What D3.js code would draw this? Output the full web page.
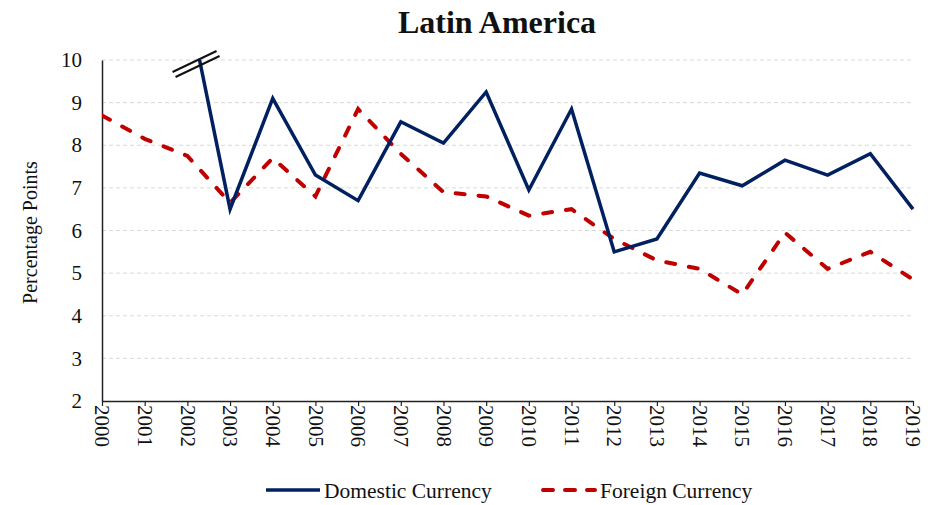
<!DOCTYPE html>
<html>
<head>
<meta charset="utf-8">
<script src="https://cdn.jsdelivr.net/npm/d3@7/dist/d3.min.js"></script>
<style>
  body { margin: 0; background: #fff; }
  svg text { font-family: "Liberation Serif", "DejaVu Serif", serif; fill: #111; }
</style>
</head>
<body>
<div id="chart"></div>
<script>
// data
var years = d3.range(2000, 2020);
var domestic = [null, null, 11.4, 6.5, 9.1, 7.3, 6.7, 8.55, 8.05, 9.25, 6.95, 8.85, 5.5, 5.8, 7.35, 7.05, 7.65, 7.3, 7.8, 6.5];
var foreign = [8.7, 8.15, 7.75, 6.65, 7.7, 6.8, 8.85, 7.8, 6.9, 6.8, 6.35, 6.5, 5.8, 5.3, 5.1, 4.5, 5.95, 5.1, 5.5, 4.85];
var yTicks = [2, 3, 4, 5, 6, 7, 8, 9, 10];

var width = 942, height = 505;
var margin = {top: 60, right: 29, bottom: 104, left: 102};
var w = width - margin.left - margin.right,
    h = height - margin.top - margin.bottom;

var svg = d3.select("#chart").append("svg")
    .attr("width", width)
    .attr("height", height);

var g = svg.append("g")
    .attr("transform", "translate(" + margin.left + "," + margin.top + ")");

var x = d3.scaleLinear().domain([2000, 2019]).range([0, w]);
var y = d3.scaleLinear().domain([2, 10]).range([h, 0]);

// title
svg.append("text")
    .attr("x", 497).attr("y", 33)
    .attr("text-anchor", "middle")
    .style("font-size", "32px").style("font-weight", "bold")
    .text("Latin America");

// gridlines
g.selectAll(".grid")
    .data(yTicks.slice(1))
    .enter().append("line")
    .attr("x1", 0).attr("x2", w)
    .attr("y1", function(d) { return y(d); })
    .attr("y2", function(d) { return y(d); })
    .attr("stroke", "#d9d9d9")
    .attr("stroke-width", 1)
    .attr("stroke-dasharray", "4,3");

// y axis
var yAxis = g.append("g")
    .call(d3.axisLeft(y).tickValues(yTicks).tickSize(0).tickPadding(20));
yAxis.select(".domain").attr("stroke", "#222").attr("stroke-width", 1.5);
yAxis.selectAll("text").style("font-size", "21px").attr("fill", "#111");

// x axis
var xAxis = g.append("g")
    .attr("transform", "translate(0," + h + ")")
    .call(d3.axisBottom(x).tickValues(years).tickFormat(d3.format("d")).tickSize(5).tickSizeOuter(0));
xAxis.select(".domain").attr("stroke", "#222").attr("stroke-width", 1.5);
xAxis.selectAll("line").attr("stroke", "#222").attr("stroke-width", 1.2);
xAxis.selectAll("text")
    .style("font-size", "21px")
    .attr("fill", "#111")
    .attr("transform", "rotate(90)")
    .attr("x", 4).attr("y", 0).attr("dy", "0.35em")
    .style("text-anchor", "start");

// y label
svg.append("text")
    .attr("transform", "translate(37," + (margin.top + h / 2 + 2) + ") rotate(-90)")
    .attr("text-anchor", "middle")
    .style("font-size", "20px")
    .text("Percentage Points");

// clip at top of plot so the off-scale 2002 point is cut
svg.append("defs").append("clipPath").attr("id", "plotclip")
  .append("rect").attr("x", 0).attr("y", 0).attr("width", w + 5).attr("height", h);

var line = d3.line()
    .defined(function(d) { return d[1] != null; })
    .x(function(d) { return x(d[0]); })
    .y(function(d) { return y(d[1]); });

var lines = g.append("g").attr("clip-path", "url(#plotclip)");

lines.append("path")
    .datum(years.map(function(yr, i) { return [yr, foreign[i]]; }))
    .attr("d", line)
    .attr("fill", "none")
    .attr("stroke", "#c00000")
    .attr("stroke-width", 4)
    .attr("stroke-linecap", "round")
    .attr("stroke-dasharray", "9,14");

lines.append("path")
    .datum(years.map(function(yr, i) { return [yr, domestic[i]]; }))
    .attr("d", line)
    .attr("fill", "none")
    .attr("stroke", "#002060")
    .attr("stroke-width", 3.5)
    .attr("stroke-linejoin", "miter");

// axis break marks where domestic leaves the top of the scale
var v0 = domestic[2], v1 = domestic[3];
var t = (v0 - 10) / (v0 - v1);
var bx = x(2002 + t), by = y(10);
[0, 5].forEach(function(off) {
  g.append("line")
    .attr("x1", bx - 27 + off * 0.6).attr("y1", by + 12 + off)
    .attr("x2", bx + 17 + off * 0.6).attr("y2", by - 9 + off)
    .attr("stroke", "#111").attr("stroke-width", 2);
});

// legend
var legend = svg.append("g").attr("transform", "translate(0,490)");
legend.append("line")
    .attr("x1", 266).attr("x2", 320).attr("y1", 0).attr("y2", 0)
    .attr("stroke", "#002060").attr("stroke-width", 3.5);
legend.append("text")
    .attr("x", 324).attr("y", 0).attr("dy", "0.35em")
    .style("font-size", "21.5px")
    .text("Domestic Currency");
legend.append("line")
    .attr("x1", 543).attr("x2", 595).attr("y1", 0).attr("y2", 0)
    .attr("stroke", "#c00000").attr("stroke-width", 4)
    .attr("stroke-linecap", "round")
    .attr("stroke-dasharray", "10,12");
legend.append("text")
    .attr("x", 600).attr("y", 0).attr("dy", "0.35em")
    .style("font-size", "21.5px")
    .text("Foreign Currency");
</script>
</body>
</html>
